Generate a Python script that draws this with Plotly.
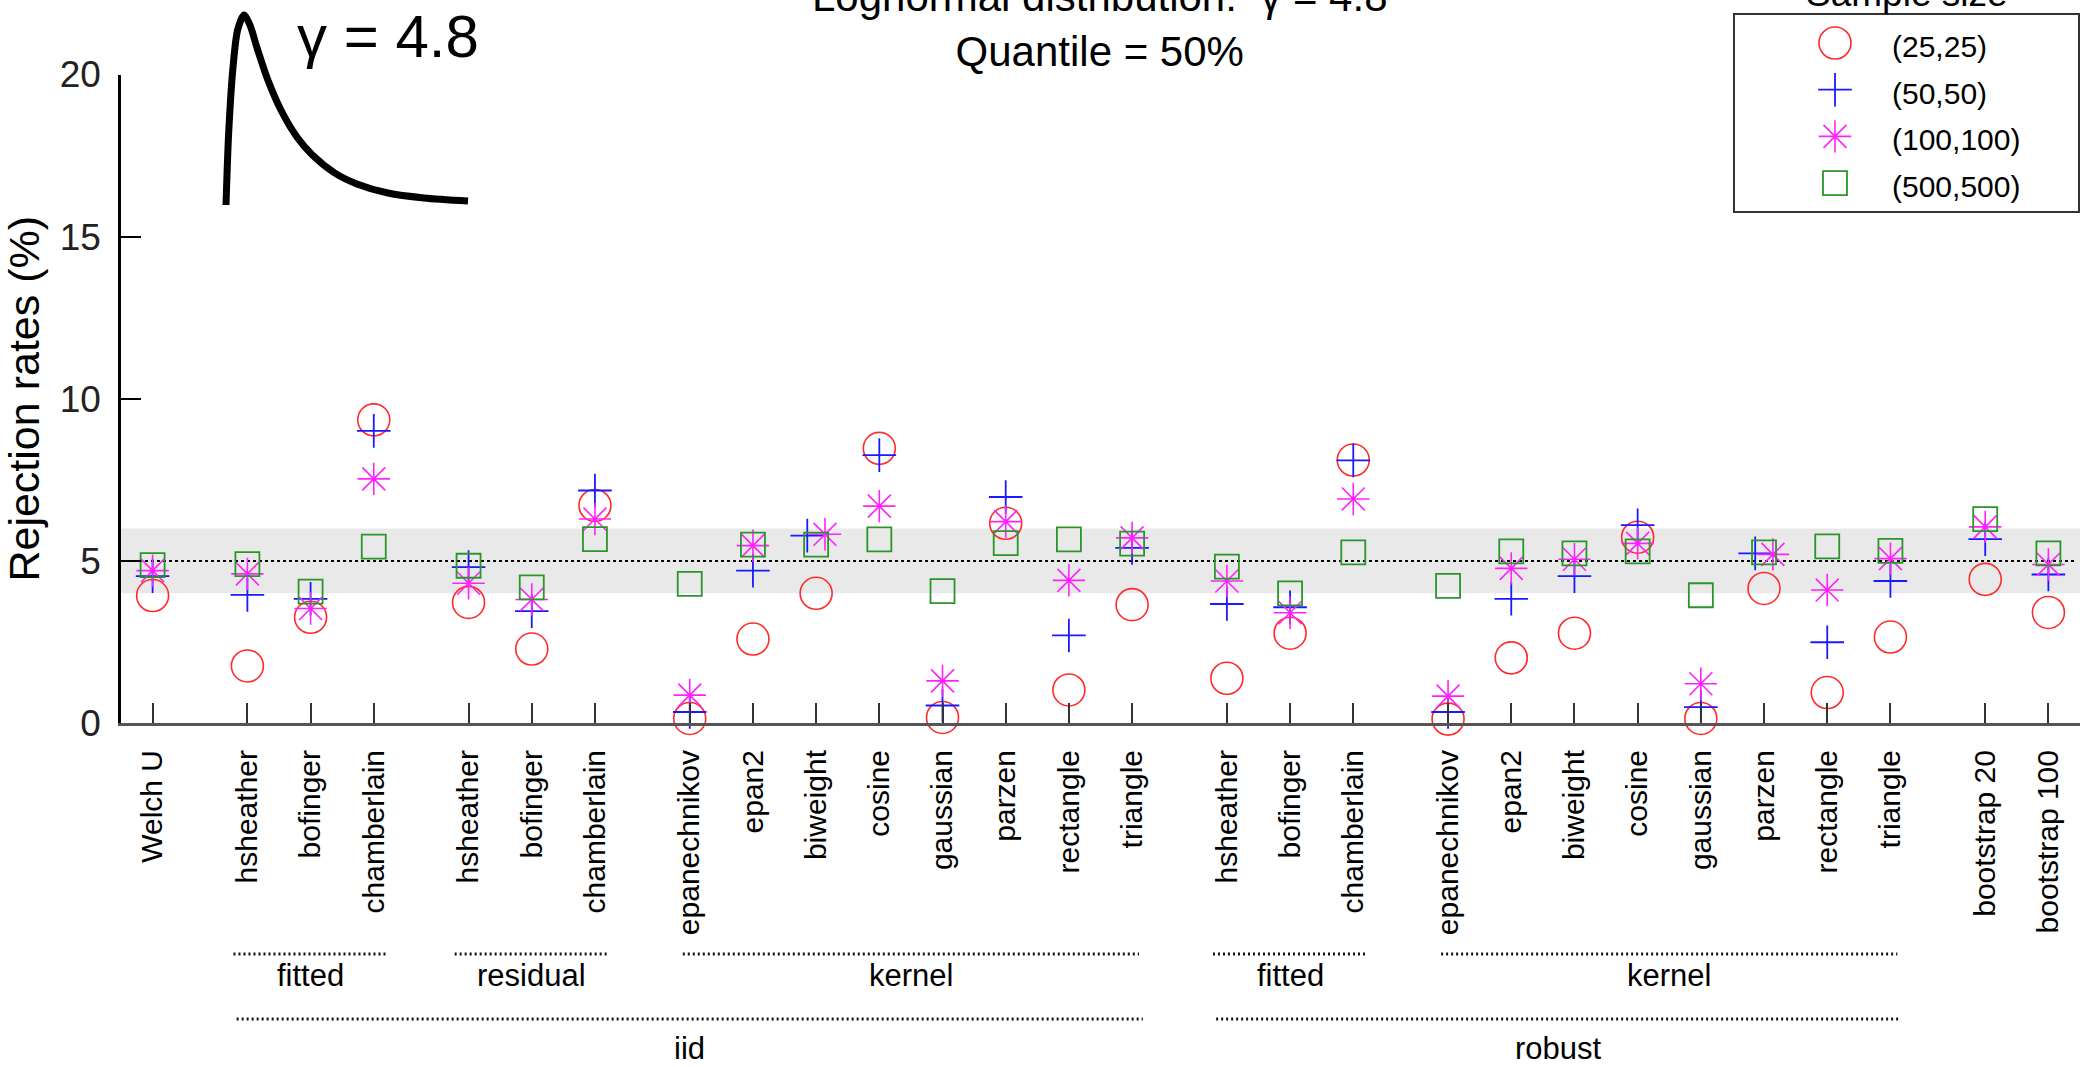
import plotly.graph_objects as go

# ---------------------------------------------------------------------------
# Data
# ---------------------------------------------------------------------------
methods = [
    "Welch U",
    "hsheather", "bofinger", "chamberlain",
    "hsheather", "bofinger", "chamberlain",
    "epanechnikov", "epan2", "biweight", "cosine", "gaussian", "parzen", "rectangle", "triangle",
    "hsheather", "bofinger", "chamberlain",
    "epanechnikov", "epan2", "biweight", "cosine", "gaussian", "parzen", "rectangle", "triangle",
    "bootstrap 20", "bootstrap 100",
]
# consecutive runs of methods that sit together on the axis
block_sizes = [1, 3, 3, 8, 3, 8, 2]
# (label, block index)
level1_groups = [("fitted", 1), ("residual", 2), ("kernel", 3), ("fitted", 4), ("kernel", 5)]
# (label, first block, last block)
level2_groups = [("iid", 1, 3), ("robust", 4, 5)]

sample_sizes = ["(25,25)", "(50,50)", "(100,100)", "(500,500)"]

rate_25 = [3.93, 1.76, 3.26, 9.35, 3.72, 2.28, 6.71, 0.14, 2.59, 4.00, 8.47, 0.17, 6.16, 1.02,
           3.65, 1.38, 2.77, 8.11, 0.12, 2.01, 2.77, 5.73, 0.14, 4.15, 0.94, 2.65, 4.43, 3.41]
rate_50 = [4.53, 3.95, 3.83, 9.01, 4.81, 3.45, 7.17, 0.34, 4.70, 5.78, 8.26, 0.54, 6.97, 2.70,
           5.40, 3.67, 3.57, 8.10, 0.34, 3.83, 4.53, 6.10, 0.49, 5.23, 2.49, 4.38, 5.67, 4.58]
rate_100 = [4.70, 4.60, 3.53, 7.53, 4.31, 3.81, 6.29, 0.86, 5.47, 5.82, 6.69, 1.30, 6.21, 4.40,
            5.71, 4.38, 3.40, 6.91, 0.83, 4.77, 5.05, 5.54, 1.21, 5.20, 4.10, 5.07, 6.05, 4.89]
rate_500 = [4.87, 4.90, 4.05, 5.44, 4.85, 4.18, 5.67, 4.29, 5.50, 5.50, 5.66, 4.07, 5.55, 5.66,
            5.53, 4.82, 4.00, 5.26, 4.23, 5.29, 5.23, 5.29, 3.94, 5.26, 5.45, 5.31, 6.29, 5.23]

nominal_level = 5
tolerance_band = (4, 6)

# sketch of the skewed density shown in the corner (normalised 0..1 box)
inset_curve_x = [0.000, 0.011, 0.029, 0.048, 0.074, 0.099, 0.127, 0.173, 0.227, 0.293,
                 0.357, 0.450, 0.541, 0.669, 0.818, 1.000]
inset_curve_y = [0.000, 0.379, 0.726, 0.921, 1.000, 0.947, 0.832, 0.658, 0.500, 0.358,
                 0.263, 0.168, 0.111, 0.063, 0.037, 0.021]

# ---------------------------------------------------------------------------
# Layout helpers
# ---------------------------------------------------------------------------
W, H = 2082, 1067
FONT = "Liberation Sans, Arial, Helvetica, sans-serif"


def px(xp):
    return xp / W


def py(yp):
    return 1 - yp / H


# x positions: one unit per method, half a unit extra between blocks
positions, block_ranges = [], []
x = 1.0
for bi, n in enumerate(block_sizes):
    if bi > 0:
        x += 0.5
    start = x
    for _ in range(n):
        positions.append(x)
        x += 1
    block_ranges.append((start, x - 1))

# nudge coincident (50,50)/(100,100) markers apart
dodge = [0.14 if abs(a - b) < 0.1 else 0.0 for a, b in zip(rate_50, rate_100)]
x_50 = [p - d for p, d in zip(positions, dodge)]
x_100 = [p + d for p, d in zip(positions, dodge)]

styles = [
    dict(symbol="circle-open", size=32, color="#ff2a2a", width=1.6),
    dict(symbol="cross-thin-open", size=24, color="#1a1aff", width=1.8),
    dict(symbol="asterisk-open", size=27, color="#ff22ff", width=1.6),
    dict(symbol="square-open", size=24, color="#2a962a", width=1.8),
]
series = [(positions, rate_25), (x_50, rate_50), (x_100, rate_100), (positions, rate_500)]

fig = go.Figure()
for name, (xs, ys), st in zip(sample_sizes, series, styles):
    fig.add_trace(go.Scatter(
        x=xs, y=ys, mode="markers", name=name, showlegend=False, cliponaxis=False,
        marker=dict(symbol=st["symbol"], size=st["size"], color=st["color"],
                    line=dict(width=st["width"], color=st["color"])),
        xaxis="x", yaxis="y",
    ))

# inset density sketch
fig.add_trace(go.Scatter(
    x=inset_curve_x, y=inset_curve_y, mode="lines", showlegend=False, hoverinfo="skip",
    line=dict(color="black", width=7, shape="spline", smoothing=0.8),
    xaxis="x2", yaxis="y2",
))

# legend keys
LEG_ROW0, LEG_ROW_STEP, LEG_KEY_X, LEG_TEXT_X = 28, 46.7, 100, 155
for i, (name, st) in enumerate(zip(sample_sizes, styles)):
    fig.add_trace(go.Scatter(
        x=[LEG_KEY_X], y=[LEG_ROW0 + i * LEG_ROW_STEP], mode="markers", showlegend=False,
        hoverinfo="skip", cliponaxis=False,
        marker=dict(symbol=st["symbol"], size=st["size"], color=st["color"],
                    line=dict(width=st["width"], color=st["color"])),
        xaxis="x3", yaxis="y3",
    ))

annotations = []
for i, name in enumerate(sample_sizes):
    annotations.append(dict(
        x=LEG_TEXT_X, y=LEG_ROW0 + i * LEG_ROW_STEP + 3.5, xref="x3", yref="y3",
        text=name, showarrow=False, xanchor="left", yanchor="middle",
        font=dict(family=FONT, size=30, color="black"),
    ))
annotations.append(dict(
    x=px(1906.5), y=py(16), xref="paper", yref="paper", text="Sample size",
    showarrow=False, xanchor="center", yanchor="bottom",
    font=dict(family=FONT, size=37, color="black"),
))

# titles
annotations.append(dict(
    x=px(1100), y=py(77), xref="paper", yref="paper",
    text="Lognormal distribution:  γ = 4.8<br>Quantile = 50%",
    showarrow=False, xanchor="center", yanchor="bottom", align="center",
    font=dict(family=FONT, size=42, color="black"),
))
annotations.append(dict(
    x=px(295), y=py(72), xref="paper", yref="paper", text="γ = 4.8",
    showarrow=False, xanchor="left", yanchor="bottom",
    font=dict(family=FONT, size=60, color="black"),
))

# group brackets beneath the method names
shapes = [
    dict(type="rect", xref="x", yref="y", x0=0.5, x1=31.5,
         y0=tolerance_band[0], y1=tolerance_band[1],
         fillcolor="#e9e9e9", line=dict(width=0), layer="below"),
    dict(type="line", xref="x", yref="y", x0=0.5, x1=31.43, y0=nominal_level, y1=nominal_level,
         line=dict(color="black", width=2, dash="3px,3px"), layer="below"),
]
L1_LINE, L1_TEXT, L2_LINE, L2_TEXT = 954, 995, 1019, 1068
for label, b in level1_groups:
    a, e = block_ranges[b]
    pad = 0.22 if block_sizes[b] <= 3 else 0.11
    shapes.append(dict(type="line", xref="x", yref="paper", x0=a - pad, x1=e + pad,
                       y0=py(L1_LINE), y1=py(L1_LINE),
                       line=dict(color="#111122", width=3, dash="2px,3px")))
    annotations.append(dict(x=(a + e) / 2, y=py(L1_TEXT), xref="x", yref="paper", text=label,
                            showarrow=False, xanchor="center", yanchor="bottom",
                            font=dict(family=FONT, size=31, color="black")))
for label, b0, b1 in level2_groups:
    a, e = block_ranges[b0][0], block_ranges[b1][1]
    shapes.append(dict(type="line", xref="x", yref="paper", x0=a - 0.17, x1=e + 0.17,
                       y0=py(L2_LINE), y1=py(L2_LINE),
                       line=dict(color="#111122", width=3, dash="2px,3px")))
    annotations.append(dict(x=(a + e) / 2, y=py(L2_TEXT), xref="x", yref="paper", text=label,
                            showarrow=False, xanchor="center", yanchor="bottom",
                            font=dict(family=FONT, size=31, color="black")))

# inset box placement (pixels), slightly padded so the thick stroke is not clipped
INSET_L, INSET_R, INSET_T, INSET_B = 226, 468, 15, 205
PAD = 10
ix0, ix1 = INSET_L - PAD, INSET_R + PAD
iy0, iy1 = INSET_T - PAD, INSET_B + PAD
ixr = [(ix0 - INSET_L) / (INSET_R - INSET_L), (ix1 - INSET_L) / (INSET_R - INSET_L)]
iyr = [(INSET_B - iy1) / (INSET_B - INSET_T), (INSET_B - iy0) / (INSET_B - INSET_T)]

hidden = dict(visible=False, showgrid=False, zeroline=False, fixedrange=True)
fig.update_layout(
    width=W, height=H, template="none",
    margin=dict(l=0, r=0, t=0, b=0, pad=0),
    paper_bgcolor="white", plot_bgcolor="rgba(0,0,0,0)",
    font=dict(family=FONT, color="black"),
    showlegend=False,
    xaxis=dict(
        domain=[px(121), px(2080)], range=[0.5, 31.5], anchor="y",
        tickmode="array", tickvals=positions, ticktext=methods, tickangle=-90,
        ticks="inside", ticklen=20, tickwidth=1.5, tickcolor="#333333",
        tickfont=dict(family=FONT, size=30, color="black"), ticklabelstandoff=12,
        showline=True, linecolor="#555555", linewidth=3,
        showgrid=False, zeroline=False, automargin=False,
    ),
    yaxis=dict(
        domain=[py(723), py(74.5)], range=[0, 20], anchor="x",
        tickmode="array", tickvals=[0, 5, 10, 15, 20],
        ticks="inside", ticklen=20, tickwidth=1.5, tickcolor="black",
        tickfont=dict(family=FONT, size=37, color="#222222"), ticklabelstandoff=10,
        showline=True, linecolor="black", linewidth=2.5,
        showgrid=False, zeroline=False, automargin=False,
        title=dict(text="Rejection rates (%)", font=dict(family=FONT, size=43, color="black"),
                   standoff=19),
    ),
    xaxis2=dict(domain=[px(ix0), px(ix1)], range=ixr, anchor="y2", **hidden),
    yaxis2=dict(domain=[py(iy1), py(iy0)], range=iyr, anchor="x2", **hidden),
    xaxis3=dict(domain=[px(1735), px(2078)], range=[0, 343], anchor="y3",
                showline=True, mirror=True, linecolor="#333333", linewidth=2,
                showticklabels=False, ticks="", showgrid=False, zeroline=False, fixedrange=True),
    yaxis3=dict(domain=[py(211), py(15)], range=[196, 0], anchor="x3",
                showline=True, mirror=True, linecolor="#333333", linewidth=2,
                showticklabels=False, ticks="", showgrid=False, zeroline=False, fixedrange=True),
    shapes=shapes,
    annotations=annotations,
)

fig.write_html("out.html", config={"displayModeBar": False})
